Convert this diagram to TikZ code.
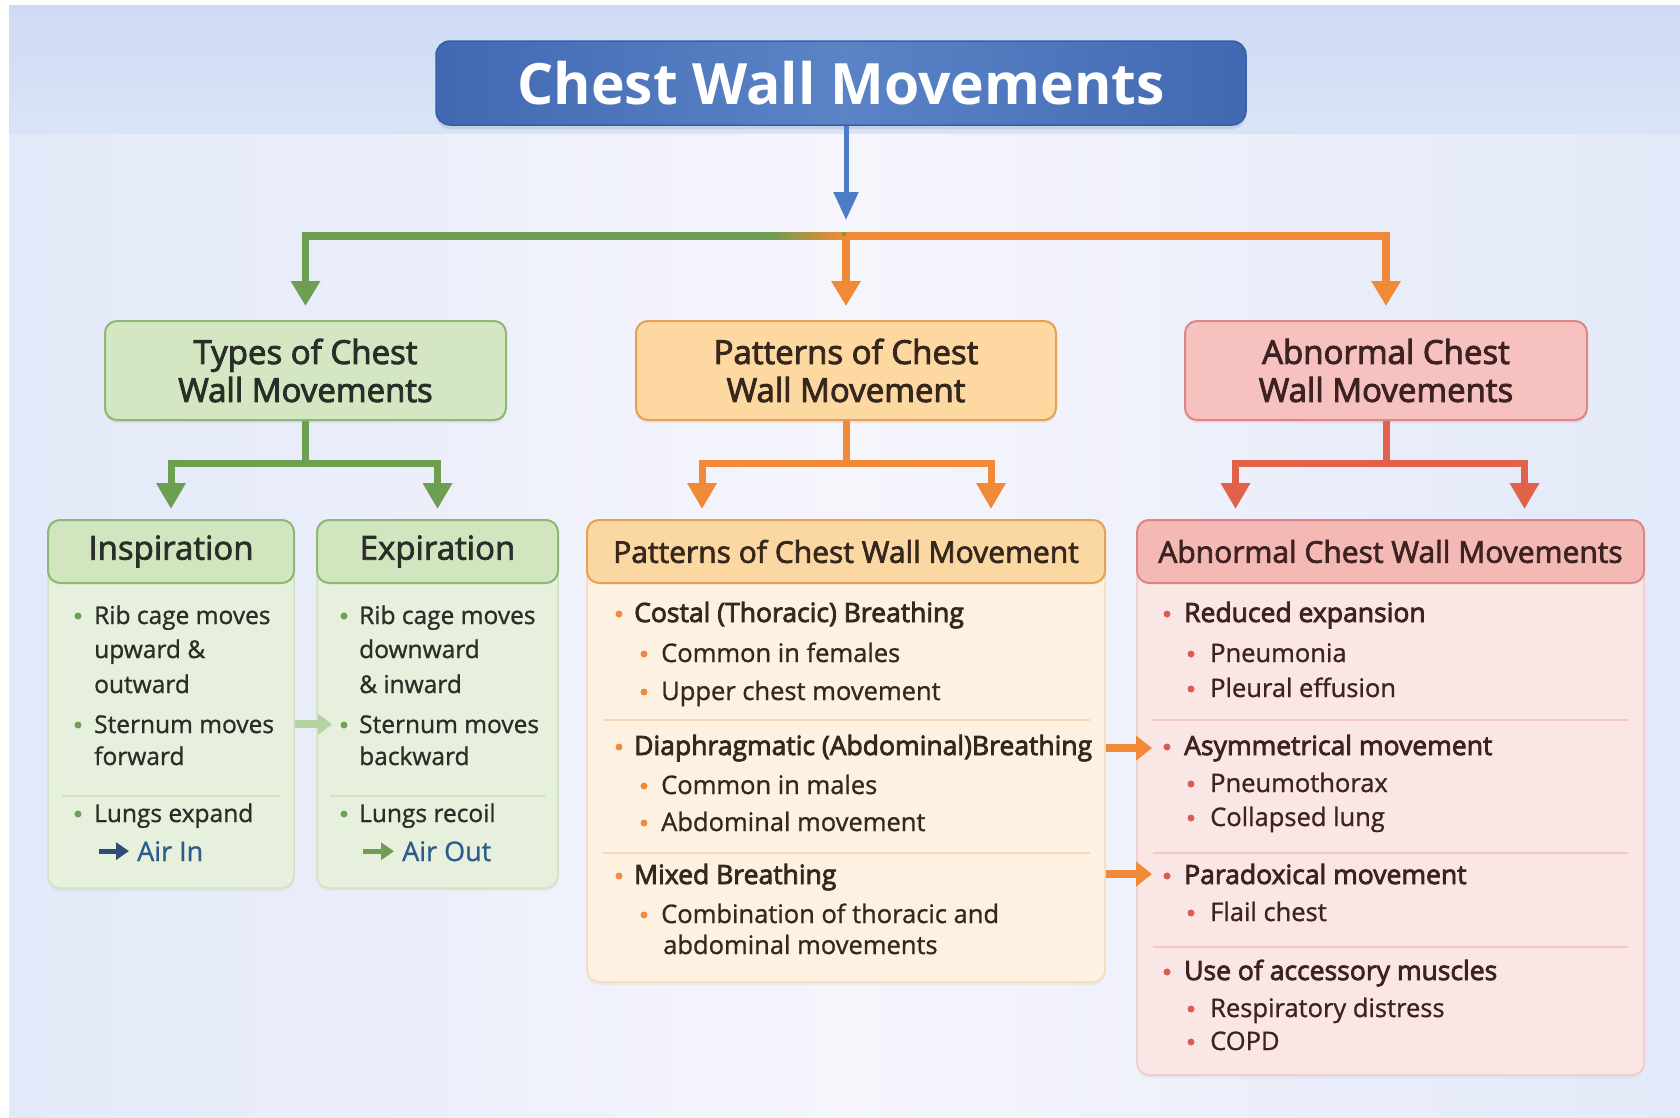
\documentclass[tikz,border=0pt]{standalone}
\usepackage{fontspec}
\setmainfont{Open Sans}
\usepackage{xcolor}
\usetikzlibrary{arrows.meta}
\usetikzlibrary{shadows}

\definecolor{bgtop}{HTML}{CFDBF5}
\definecolor{bgtopb}{HTML}{D9E3F8}
\definecolor{bgside}{HTML}{E2E9F8}
\definecolor{bgmid}{HTML}{F6F5FC}
\definecolor{tblue}{HTML}{4169B2}
\definecolor{tmid}{HTML}{5B84C7}
\definecolor{tedge}{HTML}{3560A8}
\definecolor{barr}{HTML}{4C7CC4}
\definecolor{airblue}{HTML}{2C5C8E}
\definecolor{airdark}{HTML}{2D4C78}
\definecolor{gfill}{HTML}{D4E7C2}
\definecolor{gedge}{HTML}{8EB676}
\definecolor{ghead}{HTML}{D1E5BE}
\definecolor{gpane}{HTML}{E6F0DC}
\definecolor{gline}{HTML}{D0E3C1}
\definecolor{garr}{HTML}{6E9E52}
\definecolor{gdot}{HTML}{6FA05A}
\definecolor{gink}{HTML}{2A2E28}
\definecolor{ghop}{HTML}{B5D3A0}
\definecolor{ofill}{HTML}{FDD8A0}
\definecolor{oedge}{HTML}{E6A055}
\definecolor{ohead}{HTML}{FBD7A2}
\definecolor{opane}{HTML}{FEF1E1}
\definecolor{oline}{HTML}{F5D9BA}
\definecolor{oarr}{HTML}{F08A36}
\definecolor{odot}{HTML}{EE8A45}
\definecolor{oink}{HTML}{35271D}
\definecolor{rfill}{HTML}{F7C1C0}
\definecolor{redge}{HTML}{DE8683}
\definecolor{rhead}{HTML}{F4B9B5}
\definecolor{rpane}{HTML}{FBE6E6}
\definecolor{rline}{HTML}{F1C8C8}
\definecolor{rarr}{HTML}{E1614B}
\definecolor{rdot}{HTML}{DD5A55}
\definecolor{rink}{HTML}{3D2222}

\begin{document}
\begin{tikzpicture}[x=1pt,y=-1pt,
	heavy/.style={execute at begin node={\special{pdf:literal direct 2 Tr #1 w}},
		execute at end node={\special{pdf:literal direct 0 Tr}}},
	box/.style={rounded corners=12pt, line width=2pt, inner sep=0pt},
	titlebox/.style={box, rounded corners=14pt, draw=tedge, line width=1.5pt,
		left color=tblue, right color=tblue, middle color=tmid,
		minimum width=810pt, minimum height=84pt, text=white,
		font=\bfseries\fontsize{57}{60}\selectfont,
		drop shadow={opacity=.2, shadow xshift=0pt, shadow yshift=-4pt}},
	lvl/.style={box, draw=#1edge, fill=#1fill, minimum height=99pt, align=center,
		text=#1ink, font=\fontsize{33}{38}\selectfont, heavy=0.9,
		drop shadow={opacity=.12, shadow xshift=0pt, shadow yshift=-3pt}},
	pane/.style={box, draw=#1line, fill=#1pane, line width=1.5pt,
		drop shadow={opacity=.08, shadow xshift=0pt, shadow yshift=-3pt}},
	head/.style={box, draw=#1edge, fill=#1head, minimum height=63pt,
		text=#1ink, font=\fontsize{30}{34}\selectfont, heavy=0.7},
	txt/.style={anchor=base west, inner sep=0pt, text=#1ink,
		font=\fontsize{25.5}{30}\selectfont, heavy=0.25},
	lead/.style={txt=#1, font=\fontsize{26.5}{30}\selectfont, heavy=0.8},
	side/.style={txt=g, font=\fontsize{24.5}{30}\selectfont},
	conn/.style={draw=#1arr, line width=7.5pt, -{Triangle[width=28pt,length=25pt]}, shorten >=14pt},
	link/.style={draw=#1arr, line width=7pt, -{Triangle[width=28pt,length=26pt]}, shorten >=10pt},
	jump/.style={draw=oarr, line width=8pt, -{Triangle[width=24pt,length=16pt]}},
	hop/.style={draw=ghop, line width=8pt, -{Triangle[width=20pt,length=14pt]}},
	mini/.style={draw=#1, line width=5pt, -{Triangle[width=17pt,length=13pt]}},
	sep/.style={draw=#1line, line width=1.5pt}]

	\useasboundingbox (0,0) rectangle (1680,1117);
	\fill[white] (0,0) rectangle (1680,1117);
	\shade[left color=bgside, right color=bgside, middle color=bgmid] (9,5) rectangle (1680,1117);
	\shade[top color=bgtop, bottom color=bgtopb] (9,5) rectangle (1680,133);

	\node[titlebox] (title) at (841,83) {Chest Wall Movements};
	\node[lvl=g, minimum width=401pt] (types) at (305.5,370.5) {Types of Chest\\Wall Movements};
	\node[lvl=o, minimum width=420pt] (patt) at (846,370.5) {Patterns of Chest\\Wall Movement};
	\node[lvl=r, minimum width=402pt] (abn) at (1386,370.5) {Abnormal Chest\\Wall Movements};

	\coordinate (hub) at (846,236);
	\draw[conn=g] (hub) -| (types.north);
	\draw[conn=o] (hub) -- (patt.north);
	\draw[conn=o] (hub) -| (abn.north);
	\shade[left color=garr, right color=oarr] (772,232.25) rectangle (842,239.75);
	\draw[draw=barr, line width=5pt, -{Triangle[width=24pt,length=28pt]}, shorten >=16pt] (hub |- title.south) -- (hub);

	\node[pane=g, minimum width=246pt, minimum height=368pt] (inbody) at (171,704) {};
	\node[head=g, minimum width=246pt, font=\fontsize{33}{36}\selectfont] (insp) at (171,551.5) {Inspiration};
	\node[pane=g, minimum width=241pt, minimum height=368pt] (exbody) at (437.5,704) {};
	\node[head=g, minimum width=241pt, font=\fontsize{33}{36}\selectfont] (expi) at (437.5,551.5) {Expiration};
	\node[pane=o, minimum width=518pt, minimum height=462pt] (patbody) at (846,751) {};
	\node[head=o, minimum width=518pt] (pathead) at (846,551.5) {Patterns of Chest Wall Movement};
	\node[pane=r, minimum width=507pt, minimum height=555pt] (abbody) at (1390.5,797.5) {};
	\node[head=r, minimum width=507pt] (abhead) at (1390.5,551.5) {Abnormal Chest Wall Movements};

	\foreach \n in {insp,expi}
		\draw[link=g] (types.south) -- ++(0,42) -| (\n.north);
	\foreach \dx in {-144,145}
		\draw[link=o] (patt.south) -- ++(0,42) -| ([xshift=\dx pt]pathead.north);
	\foreach \dx in {-155,134}
		\draw[link=r] (abn.south) -- ++(0,42) -| ([xshift=\dx pt]abhead.north);

	\foreach \y/\t [count=\i] in {616/Rib cage moves,650/upward \&,685/outward,725/Sternum moves,757/forward,814/Lungs expand}
		\node[side] (in\i) at (94,\y+8) {\t};
	\foreach \y/\t [count=\i] in {616/Rib cage moves,650/downward,685/\& inward,725/Sternum moves,757/backward,814/Lungs recoil}
		\node[side] (ex\i) at (359,\y+8) {\t};
	\foreach \y in {616,725,814}
		\fill[gdot] (78,\y) circle (3.5pt) (344,\y) circle (3.5pt);
	\node[side, text=airblue, font=\fontsize{27}{30}\selectfont] (airin) at (137,861) {Air In};
	\node[side, text=airblue, font=\fontsize{27}{30}\selectfont] (airout) at (402,861) {Air Out};
	\draw[mini=airdark] ([xshift=-38pt]airin.west) -- ([xshift=-8pt]airin.west);
	\draw[mini=garr] ([xshift=-39pt]airout.west) -- ([xshift=-8pt]airout.west);
	\draw[sep=g] (62,796) -- (280,796);
	\draw[sep=g] (330,796) -- (545,796);
	\draw[hop] (inbody.east |- ex4.west) -- ([xshift=-27pt]ex4.west);

	\foreach \y/\t [count=\i] in {614/Costal (Thoracic) Breathing,747/Diaphragmatic (Abdominal)Breathing,876/Mixed Breathing}{
		\node[lead=o] (pm\i) at (634,\y+8) {\t};
		\fill[odot] (619,\y) circle (3.5pt);
	}
	\foreach \y/\t [count=\i] in {654/Common in females,692/Upper chest movement,786/Common in males,823/Abdominal movement,915/Combination of thoracic and}{
		\node[txt=o] (ps\i) at (661,\y+8) {\t};
		\fill[odot] (644,\y) circle (3.5pt);
	}
	\node[txt=o] (ps6) at (663,954) {abdominal movements};
	\foreach \y in {720,853}
		\draw[sep=o] (603,\y) -- (1090,\y);

	\foreach \y/\t [count=\i] in {614/Reduced expansion,747/Asymmetrical movement,876/Paradoxical movement,972/Use of accessory muscles}{
		\node[lead=r] (am\i) at (1184,\y+8) {\t};
		\fill[rdot] (1167,\y) circle (3.5pt);
	}
	\foreach \y/\t [count=\i] in {654/Pneumonia,689/Pleural effusion,784/Pneumothorax,818/Collapsed lung,913/Flail chest,1009/Respiratory distress,1042/COPD}{
		\node[txt=r] (as\i) at (1210,\y+8) {\t};
		\fill[rdot] (1191,\y) circle (3.5pt);
	}
	\foreach \y in {720,853,947}
		\draw[sep=r] (1153,\y) -- (1628,\y);

	\foreach \i in {2,3}
		\draw[jump] (patbody.east |- am\i.west) -- ([xshift=-32pt]am\i.west);
\end{tikzpicture}
\end{document}
